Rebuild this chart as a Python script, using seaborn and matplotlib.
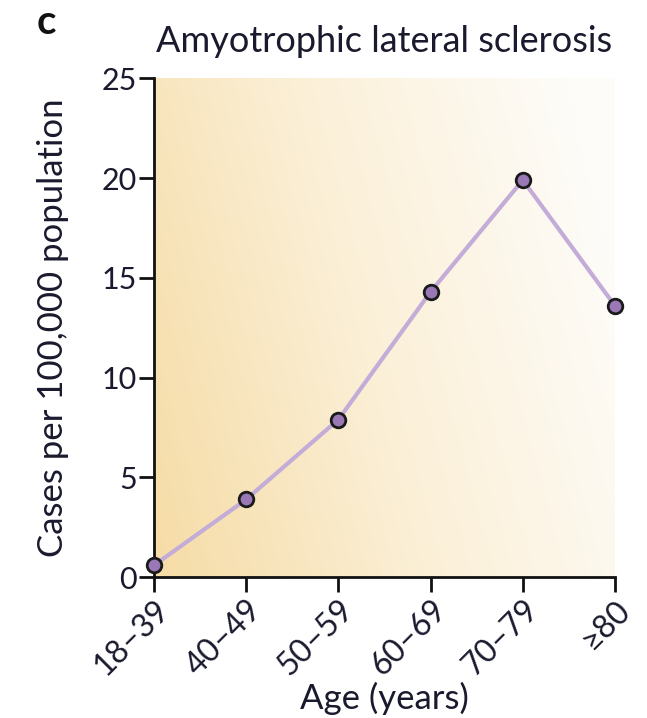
import numpy as np
import pandas as pd
import seaborn as sns
import matplotlib.pyplot as plt
from matplotlib.colors import LinearSegmentedColormap

age_groups = ["18–39", "40–49", "50–59", "60–69", "70–79", "≥80"]
cases_per_100k = [0.6, 3.9, 7.9, 14.3, 19.9, 13.6]
y_ticks = [0, 5, 10, 15, 20, 25]

df = pd.DataFrame({"age": age_groups, "cases": cases_per_100k})
df["pos"] = np.arange(len(age_groups))

sns.set_theme(style="white")
plt.rcParams["font.family"] = ["Lato", "DejaVu Sans"]

fig = plt.figure(figsize=(6.47, 7.18), dpi=100)
ax = fig.add_axes([0.238, 0.196, 0.7125, 0.695])

# warm background gradient fading toward the right and top
xs = np.linspace(0, 1, 300)
ys = np.linspace(0, 1, 300)
X, Y = np.meshgrid(xs, ys)
grad = np.clip(1.0 - (0.85 * X + 0.25 * (1 - Y)), 0, 1)
cmap = LinearSegmentedColormap.from_list("warm", ["#fefcf8", "#fbefd6", "#f6dca6"])
ax.imshow(grad, cmap=cmap, extent=[0, 5, 0, 25], origin="upper",
          aspect="auto", zorder=0, interpolation="bicubic")

sns.lineplot(data=df, x="pos", y="cases", ax=ax, color="#c4acd8", lw=3,
             marker="o", markersize=10.5, markerfacecolor="#9a78b6",
             markeredgecolor="#1a1a1a", markeredgewidth=2, zorder=3,
             clip_on=False)

ax.set_xlim(0, 5)
ax.set_ylim(0, 25)
ax.set_xticks(df["pos"])
ax.set_xticklabels(age_groups, rotation=45, ha="right", rotation_mode="anchor",
                   fontsize=23, color="#1a1a2e")
ax.set_yticks(y_ticks)
ax.set_yticklabels([str(t) for t in y_ticks], fontsize=22, color="#1a1a2e")
ax.tick_params(axis="both", direction="out", length=11, width=2, color="#111111",
               left=True, bottom=True, pad=1.5)

for side in ["top", "right"]:
    ax.spines[side].set_visible(False)
for side in ["left", "bottom"]:
    ax.spines[side].set_color("#111111")
    ax.spines[side].set_linewidth(2)

ax.set_xlabel("Age (years)", fontsize=25, color="#1a1a2e", labelpad=0)
ax.set_ylabel("Cases per 100,000 population", fontsize=25, color="#1a1a2e")
ax.yaxis.set_label_coords(-0.185, 0.5)
ax.set_title("Amyotrophic lateral sclerosis", fontsize=26, color="#1a1a2e",
             pad=19)
fig.text(0.057, 0.968, "c", fontsize=29, fontweight="bold", color="#111111",
         va="center", ha="left")

fig.savefig("out.png", dpi=100)
